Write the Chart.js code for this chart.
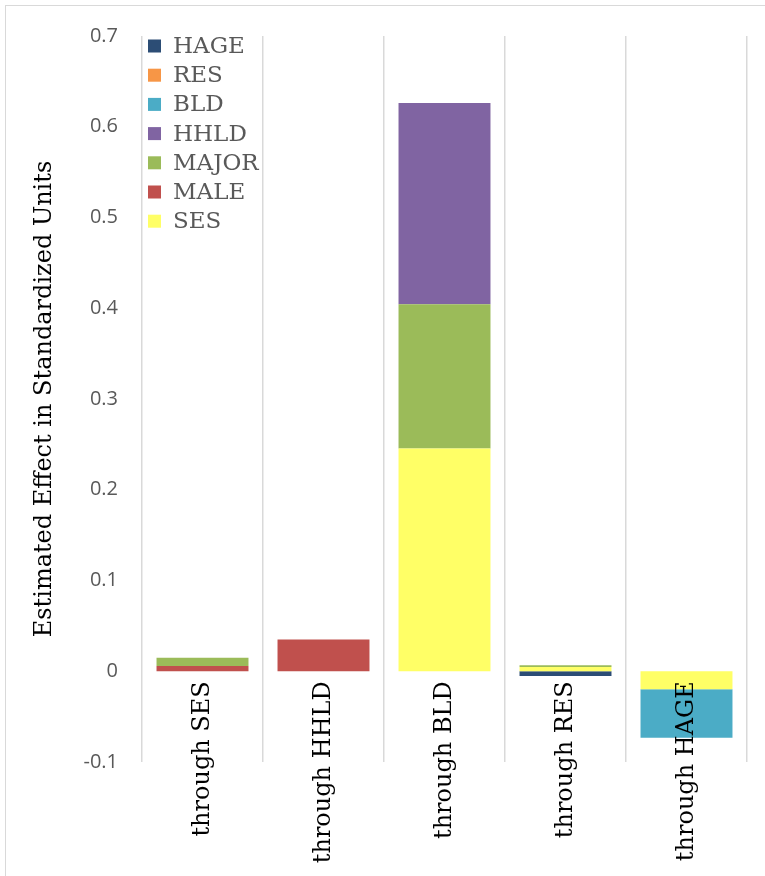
<!DOCTYPE html>
<html>
<head>
<meta charset="utf-8">
<script src="https://cdn.jsdelivr.net/npm/chart.js@4/dist/chart.umd.min.js"></script>
<style>
    html, body { margin: 0; padding: 0; background: #fff; overflow: hidden; }
    #wrap { position: relative; width: 765px; height: 876px; }
    #frame { position: absolute; left: 5px; top: 5px; width: 900px; height: 900px; border: 1px solid #d9d9d9; pointer-events: none; }
</style>
</head>
<body>
<div id="wrap">
    <canvas id="effects-chart" width="765" height="876"></canvas>
    <div id="frame"></div>
</div>
<script>
// categories (x axis)
const categories = ["through SES", "through HHLD", "through BLD", "through RES", "through HAGE"];

// series values, stacked in this order (first = closest to zero)
const ses   = [0,      0,     0.2454, 0.0047, -0.0198];
const male  = [0.0058, 0.035, 0,      0,       0];
const major = [0.0092, 0,     0.1591, 0.0018,  0];
const hhld  = [0,      0,     0.2217, 0,       0];
const bld   = [0,      0,     0,      0,      -0.0534];
const res   = [0,      0,     0,      0,       0];
const hage  = [0,      0,     0,     -0.0052,  0];

// y axis ticks
const yMin = -0.1, yMax = 0.7, yStep = 0.1;

const serif = "'DejaVu Serif', 'Liberation Serif', serif";

// draws the legend in the top-left corner of the plot, like the original
const insideLegend = {
    id: "insideLegend",
    afterDraw(chart) {
        const ctx = chart.ctx;
        const area = chart.chartArea;
        const sets = chart.data.datasets.slice().reverse();
        ctx.save();
        ctx.font = "23px " + serif;
        ctx.textBaseline = "middle";
        ctx.textAlign = "left";
        sets.forEach((ds, i) => {
            const y = area.top + 10 + i * 29.2;
            ctx.fillStyle = ds.backgroundColor;
            ctx.fillRect(area.left + 6, y - 6.5, 13, 13);
            ctx.fillStyle = "#595959";
            ctx.fillText(ds.label, area.left + 31, y + 1);
        });
        ctx.restore();
    }
};

new Chart(document.getElementById("effects-chart").getContext("2d"), {
    type: "bar",
    plugins: [insideLegend],
    data: {
        labels: categories,
        datasets: [
            {label: "SES", data: ses, backgroundColor: "#ffff66"},
            {label: "MALE", data: male, backgroundColor: "#c0504d"},
            {label: "MAJOR", data: major, backgroundColor: "#9bbb59"},
            {label: "HHLD", data: hhld, backgroundColor: "#8064a2"},
            {label: "BLD", data: bld, backgroundColor: "#4bacc6"},
            {label: "RES", data: res, backgroundColor: "#f79646"},
            {label: "HAGE", data: hage, backgroundColor: "#2c4d75"}
        ]
    },
    options: {
        responsive: false,
        animation: false,
        categoryPercentage: 1,
        barPercentage: 0.76,
        borderWidth: 0,
        layout: {padding: {left: 18, top: 33, right: 18, bottom: 114}},
        plugins: {
            legend: {display: false},
            tooltip: {enabled: false}
        },
        scales: {
            x: {
                stacked: true,
                position: {y: 0},
                grid: {offset: true, color: "#d9d9d9", lineWidth: 1.5, drawTicks: false},
                border: {display: false},
                ticks: {
                    z: 1,
                    autoSkip: false,
                    minRotation: 90,
                    maxRotation: 90,
                    padding: 10,
                    color: "#000",
                    font: {family: serif, size: 24}
                }
            },
            y: {
                stacked: true,
                min: yMin,
                max: yMax,
                afterFit: scale => { scale.width = 124; },
                grid: {display: false, drawTicks: false},
                border: {display: false},
                ticks: {
                    stepSize: yStep,
                    padding: 24,
                    color: "#595959",
                    font: {family: "'Open Sans', sans-serif", size: 20},
                    callback: v => String(Number(v.toFixed(1)))
                },
                title: {
                    display: true,
                    text: "Estimated Effect in Standardized Units",
                    color: "#000",
                    padding: {top: 12, bottom: 0},
                    font: {family: serif, size: 24}
                }
            }
        }
    }
});
</script>
</body>
</html>
